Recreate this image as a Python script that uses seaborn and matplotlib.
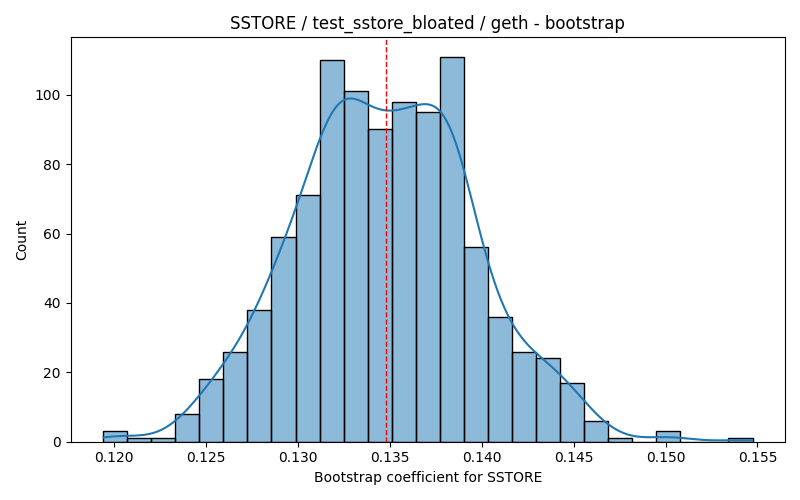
import numpy as np
import pandas as pd
import seaborn as sns
import matplotlib
matplotlib.use("Agg")
import matplotlib.pyplot as plt

# bootstrap histogram (27 bins, 1000 samples)
bin_lo = 0.11942
bin_hi = 0.15473
counts = [3, 1, 1, 8, 18, 26, 38, 59, 71, 110, 101, 90, 98, 95,
          111, 56, 36, 26, 24, 17, 6, 1, 0, 3, 0, 0, 1]
point_estimate = 0.1348

n_bins = len(counts)
width = (bin_hi - bin_lo) / n_bins
df = pd.DataFrame({
    "coef": bin_lo + width * (np.arange(n_bins) + 0.5),
    "n": counts,
})

# weights shrink the effective sample size, so narrow the bandwidth back
# to what 1000 raw draws would give
fig, ax = plt.subplots(figsize=(8, 5), dpi=100)
sns.histplot(data=df, x="coef", weights="n", bins=n_bins,
             binrange=(bin_lo, bin_hi), kde=True,
             kde_kws={"bw_adjust": 0.42, "cut": 0.28}, ax=ax)
ax.axvline(point_estimate, color="red", linestyle="--", linewidth=1)
ax.set_title("SSTORE / test_sstore_bloated / geth - bootstrap")
ax.set_xlabel("Bootstrap coefficient for SSTORE")
ax.set_ylabel("Count")

plt.tight_layout()
plt.savefig("out.png")
